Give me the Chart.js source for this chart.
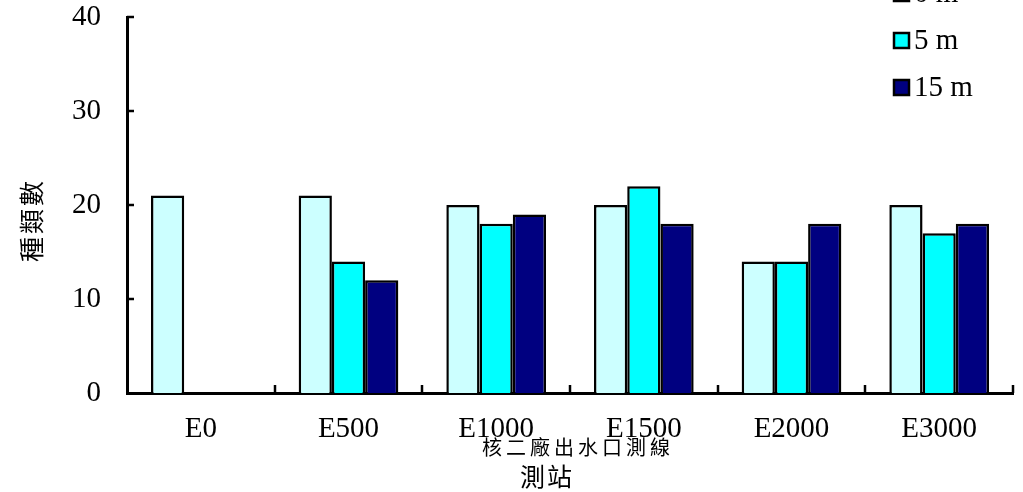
<!DOCTYPE html>
<html>
<head>
<meta charset="utf-8">
<script src="https://cdn.jsdelivr.net/npm/chart.js@4/dist/chart.umd.min.js"></script>
<style>
html,body{margin:0;padding:0;background:#fff;}
#wrap{width:1023px;height:492px;position:relative;}
</style>
</head>
<body>
<div id="wrap"><canvas id="c" width="1023" height="492"></canvas></div>
<script>
const categories = ["E0", "E500", "E1000", "E1500", "E2000", "E3000"];
const seriesLabels = ["0 m", "5 m", "15 m"];
const depth0m = [21, 21, 20, 20, 14, 20];
const depth5m = [null, 14, 18, 22, 14, 17];
const depth15m = [null, 12, 19, 18, 18, 18];
const yTicks = [0, 10, 20, 30, 40];
const yTitle = "種類數";
const xTitle1 = "核二廠出水口測線";
const xTitle2 = "測站";

const colors = ["#CCFFFF", "#00FFFF", "#000080"];
const SERIF = "'Liberation Serif','Times New Roman',serif";
const CJK = "'Noto Sans CJK TC','Noto Sans CJK SC',sans-serif";

const decor = {
  id: 'decor',
  afterDraw(chart) {
    const ctx = chart.ctx;
    const x = chart.scales.x, y = chart.scales.y;
    const ca = chart.chartArea;
    ctx.save();
    ctx.strokeStyle = '#000';
    ctx.lineWidth = 2.5;
    // y ticks inward
    yTicks.forEach(v => {
      if (v === 0) return;
      const py = Math.round(y.getPixelForValue(v));
      ctx.beginPath();
      ctx.moveTo(ca.left, py);
      ctx.lineTo(ca.left + 7, py);
      ctx.stroke();
    });
    // x ticks at category boundaries, upward
    for (let i = 0; i < categories.length; i++) {
      let bx;
      if (i < categories.length - 1) {
        bx = (x.getPixelForValue(i) + x.getPixelForValue(i + 1)) / 2;
      } else {
        bx = ca.right;
      }
      bx = Math.round(bx);
      ctx.beginPath();
      ctx.moveTo(bx, ca.bottom);
      ctx.lineTo(bx, ca.bottom - 8);
      ctx.stroke();
    }
    // y title
    ctx.fillStyle = '#000';
    ctx.font = "25px " + CJK;
    ctx.textAlign = 'center';
    ctx.textBaseline = 'middle';
    ctx.save();
    ctx.translate(31, 220);
    ctx.rotate(-Math.PI / 2);
    if ('letterSpacing' in ctx) ctx.letterSpacing = '3px';
    ctx.fillText(yTitle, 0, 0);
    ctx.restore();
    // x titles
    ctx.font = "20px " + CJK;
    if ('letterSpacing' in ctx) ctx.letterSpacing = '4px';
    ctx.fillText(xTitle1, 578, 447);
    if ('letterSpacing' in ctx) ctx.letterSpacing = '2px';
    ctx.font = "25px " + CJK;
    ctx.fillText(xTitle2, 547, 476);
    if ('letterSpacing' in ctx) ctx.letterSpacing = '0px';
    // legend
    ctx.font = "29px " + SERIF;
    ctx.textAlign = 'left';
    const legendY0 = -7, step = 47;
    chart.data.datasets.forEach((ds, i) => {
      const cy = legendY0 + i * step;
      ctx.fillStyle = ds.backgroundColor;
      ctx.fillRect(894, cy - 7, 15, 15);
      ctx.lineWidth = 2.5;
      ctx.strokeStyle = '#000';
      ctx.strokeRect(894, cy - 7, 15, 15);
      ctx.fillStyle = '#000';
      ctx.fillText(ds.label, 914, cy + 1);
    });
    ctx.restore();
  }
};

new Chart(document.getElementById('c'), {
  type: 'bar',
  data: {
    labels: categories,
    datasets: [
      { label: seriesLabels[0], data: depth0m, backgroundColor: colors[0], borderColor: '#000', borderWidth: 2.5 },
      { label: seriesLabels[1], data: depth5m, backgroundColor: colors[1], borderColor: '#000', borderWidth: 2.5 },
      { label: seriesLabels[2], data: depth15m, backgroundColor: colors[2], borderColor: '#000', borderWidth: 2.5 }
    ]
  },
  options: {
    responsive: false,
    animation: false,
    layout: { padding: { top: 17, right: 10, left: 0, bottom: 0 } },
    plugins: { legend: { display: false }, tooltip: { enabled: false } },
    datasets: { bar: { categoryPercentage: 0.675, barPercentage: 1.0 } },
    scales: {
      x: {
        offset: true,
        grid: { display: false, drawTicks: false },
        border: { display: true, color: '#000', width: 3 },
        ticks: { font: { family: SERIF, size: 29 }, color: '#000', padding: 19 },
        afterFit(scale) { scale.height = 99; scale.paddingLeft = 0; scale.paddingRight = 0; }
      },
      y: {
        min: 0, max: 40,
        grid: { display: false, drawTicks: false },
        border: { display: true, color: '#000', width: 3 },
        ticks: {
          font: { family: SERIF, size: 29 }, color: '#000', padding: 26,
          stepSize: 10,
          callback: (v) => yTicks.includes(v) ? String(v) : ''
        },
        afterFit(scale) { scale.width = 127; scale.paddingTop = 0; scale.paddingBottom = 0; }
      }
    }
  },
  plugins: [decor]
});
</script>
</body>
</html>
